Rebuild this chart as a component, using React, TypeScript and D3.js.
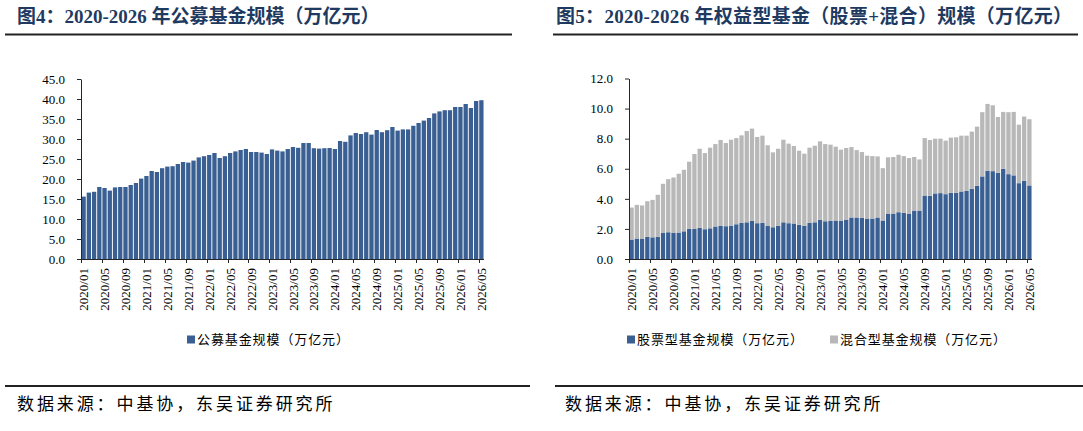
import * as d3 from "d3";
import { useEffect, useRef } from "react";

// monthly categories 2020/01 .. 2026/05
const months: string[] = [];
for (let yr = 2020; yr <= 2026; yr++) {
    for (let m = 1; m <= 12; m++) {
        if (yr === 2026 && m > 5) break;
        months.push(`${yr}/${String(m).padStart(2, "0")}`);
    }
}

// 图4 公募基金规模 (万亿元)
const publicFund = [
    15.6, 16.6, 16.8, 18.0, 17.75, 17.1, 17.9, 18.0, 18.0, 18.5,
    19.0, 20.1, 20.75, 22.0, 21.75, 22.7, 23.1, 23.2, 23.75, 24.25,
    24.1, 24.6, 25.4, 25.7, 26.0, 26.5, 25.25, 25.7, 26.5, 26.9,
    27.25, 27.5, 26.75, 26.75, 26.6, 26.25, 27.4, 27.1, 26.9, 27.5,
    28.0, 27.8, 29.0, 29.0, 27.7, 27.6, 27.7, 27.75, 27.5, 29.5,
    29.3, 30.9, 31.5, 31.25, 31.7, 31.1, 32.25, 31.7, 32.2, 33.0,
    32.1, 32.4, 32.4, 33.3, 34.0, 34.6, 35.25, 36.4, 36.9, 37.2,
    37.2, 38.0, 38.0, 38.75, 37.75, 39.5, 39.7,
];

// 图5 股票型基金规模 (万亿元)
const equityFund = [
    1.29, 1.36, 1.33, 1.47, 1.44, 1.47, 1.73, 1.78, 1.73, 1.76,
    1.84, 2.0, 2.0, 2.07, 1.98, 2.04, 2.16, 2.2, 2.18, 2.22,
    2.31, 2.4, 2.44, 2.53, 2.38, 2.4, 2.2, 2.11, 2.2, 2.44,
    2.38, 2.36, 2.27, 2.2, 2.4, 2.44, 2.6, 2.51, 2.53, 2.56,
    2.53, 2.62, 2.76, 2.76, 2.73, 2.69, 2.69, 2.76, 2.56, 3.02,
    3.02, 3.11, 3.07, 3.02, 3.22, 3.22, 4.22, 4.2, 4.36, 4.38,
    4.31, 4.4, 4.4, 4.49, 4.53, 4.67, 4.87, 5.49, 5.87, 5.84,
    5.73, 6.0, 5.64, 5.56, 5.04, 5.2, 4.89,
];

// 图5 混合型基金规模 (万亿元)
const mixedFund = [
    2.13, 2.24, 2.23, 2.37, 2.49, 2.8, 3.27, 3.53, 3.69, 3.91,
    4.09, 4.47, 4.98, 5.26, 5.06, 5.36, 5.48, 5.71, 5.53, 5.71,
    5.73, 5.82, 6.07, 6.14, 5.73, 5.8, 5.36, 4.98, 5.13, 5.49,
    5.29, 5.15, 4.93, 4.8, 5.0, 5.09, 5.22, 5.13, 5.07, 4.91,
    4.74, 4.76, 4.68, 4.48, 4.38, 4.18, 4.15, 4.06, 3.48, 3.74,
    3.76, 3.82, 3.77, 3.69, 3.56, 3.4, 3.82, 3.71, 3.64, 3.62,
    3.56, 3.67, 3.69, 3.71, 3.67, 3.8, 3.93, 4.27, 4.44, 4.38,
    3.71, 3.78, 4.12, 4.22, 3.89, 4.27, 4.4,
];

const BLUE = "#3a5f93";
const GRAY = "#b8b8b8";
const NAVY = "#1f3a60";
const SERIF = "'Liberation Serif', 'Times New Roman', serif";
const CJK = "'Noto Sans CJK SC', sans-serif";
const TITLE_FONT = "'Liberation Serif', 'Noto Sans CJK SC', serif";

type Series = { name: string; values: number[]; color: string; legendX: number };

type PanelProps = {
    left: number;
    right: number;
    top: number;
    bottom: number;
    yMax: number;
    yStep: number;
    series: Series[];
};

const Panel = ({ left, right, top, bottom, yMax, yStep, series }: PanelProps) => {
    const ref = useRef<SVGGElement | null>(null);

    useEffect(() => {
        if (!ref.current) return;
        const g = d3.select(ref.current);
        g.selectAll("*").remove();

        const x = d3.scaleBand()
            .domain(months)
            .range([left, right])
            .paddingInner(0.18)
            .paddingOuter(0.09);

        const y = d3.scaleLinear().domain([0, yMax]).range([bottom, top]);

        // stacked rows
        const rows = months.map((m, i) => {
            const r: any = { month: m };
            series.forEach(s => (r[s.name] = s.values[i]));
            return r;
        });
        const stacked = d3.stack<any>().keys(series.map(s => s.name))(rows);

        g.selectAll(".layer")
            .data(stacked)
            .join("g")
            .attr("class", "layer")
            .attr("fill", (_d, i) => series[i].color)
            .selectAll("rect")
            .data(d => d)
            .join("rect")
            .attr("x", d => x(d.data.month)!)
            .attr("y", d => y(d[1]))
            .attr("width", x.bandwidth())
            .attr("height", d => y(d[0]) - y(d[1]));

        // Y axis
        const yAxis = g.append("g")
            .attr("transform", `translate(${left},0)`)
            .call(
                d3.axisLeft(y)
                    .tickValues(d3.range(0, yMax + 0.001, yStep))
                    .tickFormat(d3.format(".1f"))
                    .tickSize(4)
                    .tickSizeOuter(0)
                    .tickPadding(12)
            );
        yAxis.attr("color", "#262626")
            .attr("font-family", SERIF)
            .attr("font-size", 13);
        yAxis.selectAll("text").attr("fill", "#000");

        // X axis: ticks between categories every 4 months
        const half = (x.step() * x.paddingInner()) / 2;
        const xa = g.append("g").attr("stroke", "#262626");
        xa.append("line")
            .attr("x1", left).attr("x2", right)
            .attr("y1", bottom + 0.5).attr("y2", bottom + 0.5);
        const tickIdx = d3.range(0, months.length, 4);
        xa.selectAll(".xt")
            .data(tickIdx)
            .join("line")
            .attr("class", "xt")
            .attr("x1", i => Math.round(x(months[i])! - half) + 0.5)
            .attr("x2", i => Math.round(x(months[i])! - half) + 0.5)
            .attr("y1", bottom)
            .attr("y2", bottom + 4);

        g.append("g")
            .selectAll("text")
            .data(tickIdx)
            .join("text")
            .attr("transform", i => `translate(${x(months[i])! + x.bandwidth() / 2},${bottom + 9}) rotate(-90)`)
            .attr("text-anchor", "end")
            .attr("dy", "0.35em")
            .attr("font-family", SERIF)
            .attr("font-size", 13)
            .attr("fill", "#000")
            .text(i => months[i]);

        // Legend
        const lg = g.append("g");
        series.forEach(s => {
            lg.append("rect")
                .attr("x", s.legendX)
                .attr("y", 335.5)
                .attr("width", 8)
                .attr("height", 8)
                .attr("fill", s.color);
            lg.append("text")
                .attr("x", s.legendX + 10)
                .attr("y", 339.5)
                .attr("dy", "0.36em")
                .attr("font-family", CJK)
                .attr("font-size", 13)
                .attr("letter-spacing", 0.9)
                .attr("fill", "#000")
                .text(s.name);
        });
    }, []);

    return <g ref={ref} />;
};

const App = () => {
    return (
        <svg
            width={1083}
            height={431}
            style={{ position: "absolute", left: 0, top: 0, background: "#fff" }}
        >
            {/* titles */}
            <text x={17} y={23} fontFamily={TITLE_FONT} fontWeight="bold" fontSize={19} fill={NAVY}>
                图4：2020-2026 年公募基金规模（万亿元）
            </text>
            <text x={556} y={23} fontFamily={TITLE_FONT} fontWeight="bold" fontSize={19} letterSpacing={0.3} fill={NAVY}>
                图5：2020-2026 年权益型基金（股票+混合）规模（万亿元）
            </text>
            <line x1={5} x2={512} y1={34.5} y2={34.5} stroke="#222" strokeWidth={2} />
            <line x1={553} x2={1078} y1={34.5} y2={34.5} stroke="#222" strokeWidth={2} />

            <Panel
                left={81}
                right={484}
                top={79}
                bottom={259}
                yMax={45}
                yStep={5}
                series={[{ name: "公募基金规模（万亿元）", values: publicFund, color: BLUE, legendX: 187 }]}
            />
            <Panel
                left={629}
                right={1032}
                top={78.5}
                bottom={259}
                yMax={12}
                yStep={2}
                series={[
                    { name: "股票型基金规模（万亿元）", values: equityFund, color: BLUE, legendX: 627 },
                    { name: "混合型基金规模（万亿元）", values: mixedFund, color: GRAY, legendX: 830 },
                ]}
            />

            {/* source notes */}
            <line x1={5} x2={530} y1={386} y2={386} stroke="#222" strokeWidth={2} />
            <line x1={555} x2={1083} y1={386} y2={386} stroke="#222" strokeWidth={2} />
            <text x={17} y={410} fontFamily={CJK} fontSize={17} letterSpacing={2.9} fill="#000">
                数据来源：中基协，东吴证券研究所
            </text>
            <text x={565} y={410} fontFamily={CJK} fontSize={17} letterSpacing={2.9} fill="#000">
                数据来源：中基协，东吴证券研究所
            </text>
        </svg>
    );
};

export default App;
